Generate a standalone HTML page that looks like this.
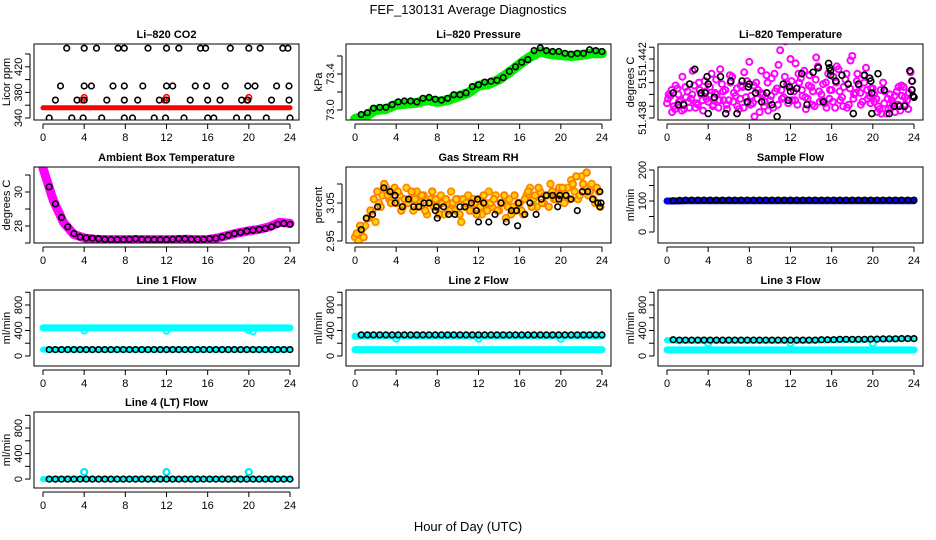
<!DOCTYPE html>
<html><head><meta charset="utf-8"><style>
html,body{margin:0;padding:0;background:#fff;}
svg{display:block;font-family:"Liberation Sans",sans-serif;}
</style></head><body>
<svg id="chart" width="936" height="540" viewBox="0 0 936 540">
<text x="468" y="14" text-anchor="middle" font-size="13">FEF_130131  Average Diagnostics</text>
<text x="468" y="531" text-anchor="middle" font-size="13">Hour of Day (UTC)</text>
</svg>
<script>
// ---- data ----
const xTicks = [0,4,8,12,16,20,24];
const hourly = [0,1,2,3,4,5,6,7,8,9,10,11,12,13,14,15,16,17,18,19,20,21,22,23,24];

// CO2
const co2BlackHours = [2.3,4.0,5.2,7.3,7.9,10.2,12.0,13.2,15.3,15.8,18.2,20.0,21.1,23.3,23.8,
 1.7,4.0,4.7,6.8,7.9,9.7,12.0,12.6,14.8,15.9,17.7,19.9,20.6,22.7,23.9,
 1.2,3.3,4.0,6.2,7.9,9.2,11.3,12.0,14.3,16.0,17.2,19.3,19.9,22.2,23.9,
 0.6,2.8,3.9,5.7,7.9,8.7,10.8,11.9,13.7,16.0,16.6,18.8,19.9,21.7,24.0];
const co2BlackVals = [449,449,449,449,449,449,449,449,449,449,449,449,449,449,449,
 390,390,390,390,390,390,390,390,390,390,390,390,390,390,390,
 368,368,368,368,368,368,368,368,368,368,368,368,368,368,368,
 340,340,340,340,340,340,340,340,340,340,340,340,340,340,340];
const co2Red = [356,356,356,356,356,356,356,356,356,356,356,356,356,356,356,356,356,356,356,356,356,356,356,356,356];
const co2RedSpikeHours = [3.8,4.0,12.0,20.0,11.8,19.8];
const co2RedSpikeVals = [368,372,372,372,368,368];

// Pressure
const presGreen = [72.90,72.93,73.00,73.01,73.06,73.07,73.08,73.11,73.09,73.11,73.15,73.19,73.27,73.29,73.34,73.42,73.51,73.59,73.65,73.62,73.61,73.60,73.61,73.63,73.63];
const presBlack = [72.95,72.97,73.02,73.03,73.03,73.06,73.09,73.10,73.10,73.09,73.13,73.14,73.12,73.11,73.13,73.17,73.17,73.19,73.26,73.28,73.31,73.32,73.33,73.36,73.43,73.48,73.53,73.56,73.66,73.69,73.66,73.65,73.65,73.63,73.62,73.63,73.63,73.67,73.66,73.65];

// Li-820 temperature
const tempPinkA = [51.4390,51.4395,51.4388,51.4400,51.4392,51.4386,51.4398,51.4393,51.4402,51.4389,51.4396,51.4405,
 51.4391,51.4410,51.4397,51.4387,51.4403,51.4399,51.4392,51.4408,51.4395,51.4386,51.4401,51.4394,
 51.4418,51.4390,51.4404,51.4384,51.4396,51.4409,51.4392,51.4387,51.4400,51.4426,51.4394,51.4403,
 51.4420,51.4398,51.4389,51.4407,51.4412,51.4393,51.4401,51.4388,51.4415,51.4396,51.4390,51.4410,
 51.4399,51.4387,51.4413,51.4394,51.4406,51.4389,51.4422,51.4397,51.4402,51.4391,51.4414,51.4395,
 51.4400,51.4393,51.4386,51.4404,51.4383,51.4396,51.4390,51.4398,51.4385,51.4401,51.4392,51.4411];
const tempPinkB = [51.4396,51.4384,51.4402,51.4391,51.4408,51.4394,51.4387,51.4412,51.4390,51.4399,51.4385,51.4393,
 51.4401,51.4389,51.4396,51.4413,51.4392,51.4386,51.4404,51.4397,51.4388,51.4402,51.4411,51.4390,
 51.4395,51.4381,51.4399,51.4412,51.4391,51.4385,51.4407,51.4398,51.4416,51.4393,51.4432,51.4401,
 51.4392,51.4417,51.4404,51.4395,51.4386,51.4409,51.4398,51.4421,51.4391,51.4403,51.4387,51.4399,
 51.4408,51.4415,51.4392,51.4401,51.4387,51.4419,51.4396,51.4410,51.4389,51.4404,51.4393,51.4400,
 51.4391,51.4388,51.4383,51.4398,51.4386,51.4392,51.4384,51.4401,51.4395,51.4389,51.4397,51.4405];
const tempPinkC = [51.4393,51.4399,51.4386,51.4396,51.4385,51.4401,51.4391,51.4396,51.4387,51.4404,51.4392,51.4398,
 51.4395,51.4388,51.4406,51.4392,51.4398,51.4389,51.4409,51.4391,51.4400,51.4393,51.4387,51.4405,
 51.4389,51.4402,51.4393,51.4397,51.4388,51.4404,51.4395,51.4410,51.4389,51.4399,51.4408,51.4390,
 51.4405,51.4392,51.4410,51.4399,51.4394,51.4402,51.4389,51.4406,51.4398,51.4392,51.4404,51.4393,
 51.4391,51.4404,51.4398,51.4388,51.4410,51.4400,51.4393,51.4405,51.4397,51.4409,51.4399,51.4390,
 51.4396,51.4384,51.4399,51.4390,51.4393,51.4387,51.4395,51.4389,51.4402,51.4394,51.4386,51.4399];
const tempBlackHours = [0.6,1.1,1.6,2.2,2.7,3.3,3.7,3.9,4.0,4.0,4.6,5.2,5.7,6.2,6.8,7.3,7.8,7.9,8.0,8.6,9.2,9.7,10.2,10.7,11.3,11.8,11.9,12.0,12.6,13.1,13.6,14.2,14.7,15.2,15.7,15.8,15.9,15.9,16.4,17.0,17.6,18.1,18.6,19.2,19.7,19.8,19.9,19.9,20.5,21.1,21.6,22.1,22.6,23.1,23.6,23.8,23.8,23.9,24.0];
const tempBlackVals = [51.4397,51.4389,51.4389,51.4403,51.4413,51.4397,51.4397,51.4408,51.4403,51.4383,51.4394,51.4408,51.4383,51.4405,51.4383,51.4405,51.4391,51.4401,51.4403,51.4397,51.4391,51.4397,51.4389,51.4381,51.4403,51.4392,51.4401,51.4398,51.4400,51.4410,51.4389,51.4411,51.4414,51.4391,51.4417,51.4414,51.4412,51.4409,51.4405,51.4409,51.4403,51.4383,51.4403,51.4409,51.4407,51.4405,51.4397,51.4383,51.4410,51.4399,51.4383,51.4388,51.4388,51.4388,51.4412,51.4405,51.4399,51.4395,51.4394];

// Ambient box temperature
const ambMagenta = [31.4,29.5,28.2,27.5,27.3,27.22,27.2,27.2,27.2,27.2,27.2,27.2,27.2,27.2,27.22,27.2,27.2,27.3,27.45,27.6,27.72,27.8,27.95,28.22,28.15];
const ambBlack = [30.3,29.3,28.5,27.95,27.55,27.35,27.3,27.28,27.25,27.22,27.2,27.2,27.2,27.22,27.25,27.22,27.2,27.2,27.2,27.2,27.22,27.25,27.25,27.22,27.22,27.22,27.25,27.28,27.35,27.45,27.55,27.62,27.7,27.75,27.8,27.85,27.95,28.1,28.15,28.1];

// Gas stream RH
const rhYellowA = [2.96,2.95,2.98,2.99,3.01,3.03,3.00,3.05,3.07,3.09,3.06,3.08,
 3.05,3.07,3.04,3.09,3.06,3.03,3.08,3.05,3.07,3.02,3.06,3.04,
 3.04,3.07,3.02,3.05,3.08,3.03,3.06,3.00,3.04,3.07,3.03,3.05,
 3.06,3.02,3.05,3.08,3.04,3.07,3.03,3.05,3.01,3.06,3.04,3.03,
 3.05,3.02,3.07,3.09,3.06,3.04,3.08,3.05,3.07,3.10,3.06,3.08,
 3.07,3.05,3.09,3.11,3.08,3.06,3.12,3.09,3.07,3.10,3.05,3.08];
const rhYellowB = [2.97,2.99,2.96,3.01,3.03,3.06,3.08,3.04,3.10,3.07,3.05,3.09,
 3.08,3.03,3.06,3.05,3.08,3.06,3.04,3.07,3.03,3.05,3.08,3.06,
 3.02,3.05,3.06,3.03,3.05,3.06,3.02,3.06,3.05,3.03,3.06,3.02,
 3.04,3.07,3.03,3.05,3.06,3.03,3.05,3.07,3.04,3.02,3.07,3.05,
 3.03,3.06,3.08,3.04,3.07,3.09,3.05,3.07,3.04,3.08,3.06,3.09,
 3.09,3.07,3.06,3.10,3.12,3.07,3.10,3.13,3.08,3.06,3.09,3.04];
const rhBlackHours = [0.6,1.1,1.7,2.2,2.8,3.4,3.9,3.9,4.6,5.2,5.7,6.2,6.7,7.2,7.8,7.9,8.0,8.6,9.1,9.7,10.2,10.7,11.3,11.8,11.9,12.0,12.5,13.0,13.6,14.2,14.7,15.2,15.7,15.8,15.9,16.5,17.0,17.6,18.1,18.6,19.2,19.7,19.8,19.9,20.5,21.0,21.6,22.1,22.6,23.1,23.6,23.8,23.8,23.9];
const rhBlackVals = [2.98,3.01,3.02,3.04,3.09,3.08,3.07,3.05,3.04,3.06,3.04,3.04,3.05,3.05,3.03,3.04,3.01,3.04,3.02,3.02,3.04,3.04,3.05,3.03,3.06,3.00,3.05,3.00,3.02,3.05,3.00,3.03,3.03,2.99,3.05,3.02,3.05,3.02,3.06,3.07,3.07,3.04,3.06,3.07,3.07,3.06,3.03,3.08,3.08,3.06,3.05,3.08,3.04,3.05];

// Sample flow
const sampleBlue = [100,100,101,101,101,101,101,101,101,101,101,101,101,101,101,101,101,101,101,101,101,101,101,101,101];
const sampleBlack = [101,102,103,103,103,103,103,103,103,103,103,103,103,103,103,103,103,103,103,103,103,103,103,103,103,103,103,103,103,103,103,103,103,103,103,103,103,103,103,103];

// Line flows
const line1CyanHigh = [440,440,440,440,440,440,440,440,440,440,440,440,440,440,440,440,440,440,440,440,440,440,440,440,440];
const line1CyanLow = [100,100,100,100,100,100,100,100,100,100,100,100,100,100,100,100,100,100,100,100,100,100,100,100,100];
const line1DipHours = [4,12,20,20.4];
const line1DipVals = [400,395,405,385];
const line1Black = [100,100,100,100,100,100,100,100,100,100,100,100,100,100,100,100,100,100,100,100,100,100,100,100,100,100,100,100,100,100,100,100,100,100,100,100,100,100,100,100];

const line2CyanHigh = [310,315,315,315,315,315,315,315,315,315,315,315,315,315,315,315,315,315,315,315,315,315,315,315,315];
const line2CyanLow = [100,100,100,100,100,100,100,100,100,100,100,100,100,100,100,100,100,100,100,100,100,100,100,100,100];
const line2DipHours = [4,12,20];
const line2DipVals = [270,270,270];
const line2Black = [330,330,330,330,330,330,330,330,330,330,330,330,330,330,330,330,330,330,330,330,330,330,330,330,330,330,330,330,330,330,330,330,330,330,330,330,330,330,330,330];

const line3CyanHigh = [250,240,240,240,240,240,240,240,240,240,240,240,240,240,240,245,250,255,255,255,260,265,265,270,270];
const line3CyanLow = [95,95,95,95,95,95,95,95,95,95,95,95,95,95,95,95,95,95,95,95,95,95,95,95,95];
const line3DipHours = [4,12,20];
const line3DipVals = [200,200,200];
const line3Black = [255,250,250,250,250,250,250,250,250,250,250,250,250,250,250,250,250,250,250,250,250,250,250,250,255,255,255,262,262,262,262,262,265,265,268,270,270,272,272,272];

const line4Cyan = [0,0,0,0,0,0,0,0,0,0,0,0,0,0,0,0,0,0,0,0,0,0,0,0,0];
const line4SpikeHours = [4,12,20];
const line4SpikeVals = [110,110,110];
const line4Black = [0,0,0,0,0,0,0,0,0,0,0,0,0,0,0,0,0,0,0,0,0,0,0,0,0,0,0,0,0,0,0,0,0,0,0,0,0,0,0,0];

// ---- drawing ----
const NS = 'http://www.w3.org/2000/svg';
const svg = document.getElementById('chart');
const ROWS = [44,167,290,412];
const BOXW = 265, BOXH = 76;
function hoursStep(step, n, start){ const a=[]; for(let i=0;i<n;i++) a.push(start+i*step); return a; }
const black40Hours = hoursStep(0.6, 40, 0.6);
const third72A = hoursStep(1/3, 72, 0);
const third72B = hoursStep(1/3, 72, 1/6);
const third72C = hoursStep(1/3, 72, 1/9);

function mk(tag, attrs, parent){ const e=document.createElementNS(NS,tag); for(const k in attrs) e.setAttribute(k,attrs[k]); (parent||svg).appendChild(e); return e; }

function makePanel(p){
  const L = 34 + 312*p.col, T = ROWS[p.row], R = L+BOXW, B = T+BOXH;
  const g = mk('g', {});
  
  
  const xs = h => L + 9 + h*(BOXW-18)/24;
  const ys = v => B - (v - p.ymin)/(p.ymax - p.ymin)*BOXH;
  const t = mk('text', {x:L+BOXW/2, y:T-6, 'text-anchor':'middle', 'font-size':11, 'font-weight':'bold'}, g);
  t.textContent = p.title;
  
  
  const xa = mk('g', {stroke:'#000','stroke-width':1}, g);
  
  
  mk('line', {x1:xs(0), x2:xs(24), y1:B+4, y2:B+4}, xa);
  xTicks.forEach(h => {
    mk('line', {x1:xs(h), x2:xs(h), y1:B+4, y2:B+9}, xa);
    const tl = mk('text', {x:xs(h), y:B+21, 'text-anchor':'middle','font-size':11, stroke:'none'}, g);
    tl.textContent = h;
    
    
  });
  const ya = mk('g', {stroke:'#000','stroke-width':1}, g);
  
  
  mk('line', {x1:L-4, x2:L-4, y1:ys(p.yticks[0]), y2:ys(p.yticks[p.yticks.length-1])}, ya);
  p.yticks.forEach((v,i) => {
    mk('line', {x1:L-9, x2:L-4, y1:ys(v), y2:ys(v)}, ya);
    if (p.ylabels[i]) {
      const yl = mk('text', {x:0, y:0, 'text-anchor':'middle','font-size':11, transform:`translate(${L-12},${ys(v)}) rotate(-90)`}, g);
      yl.textContent = p.ylabels[i];
      
      
    }
  });
  const yt = mk('text', {x:0,y:0,'text-anchor':'middle','font-size':11, transform:`translate(${L-24},${T+BOXH/2}) rotate(-90)`}, g);
  yt.textContent = p.ylab;
  
  
  const cid = 'clip-' + p.name;
  const cp = mk('clipPath', {id:cid}, g);
  mk('rect', {x:L, y:T, width:BOXW, height:BOXH}, cp);
  const data = mk('g', {'clip-path':`url(#${cid})`}, g);
  
  
  p.draw({xs, ys, data});
  const box = mk('rect', {x:L, y:T, width:BOXW, height:BOXH, fill:'none', stroke:'#000', 'stroke-width':1}, g);
  
  
}

function band(c, hours, vals, color, w, name){
  const pts = hours.map((h,i) => c.xs(h).toFixed(1)+','+c.ys(vals[i]).toFixed(1)).join(' ');
  const pl = mk('polyline', {points:pts, fill:'none', stroke:color, 'stroke-width':w, 'stroke-linejoin':'round','stroke-linecap':'round'}, c.data);
  
  
}
function pts(c, hours, vals, color, r, sw, name, fill){
  const gg = mk('g', {fill:fill||'none', stroke:color, 'stroke-width':sw}, c.data);
  
  
  hours.forEach((h,i) => {
    const ci = mk('circle', {cx:c.xs(h).toFixed(1), cy:c.ys(vals[i]).toFixed(1), r:r}, gg);
    
    
  });
}

const flowTicks = [0,200,400,600,800,1000];
const flowLabels = ['0','','400','','800',''];

makePanel({name:'co2', col:0,row:0, title:'Li\u2013820 CO2', ylab:'Licor ppm', ymin:336.9, ymax:455.6,
  yticks:[340,360,380,400,420,440], ylabels:['340','','380','','420',''],
  draw:c => { band(c, hourly, co2Red, '#ff0000', 5, 'co2-red-series');
    pts(c, co2RedSpikeHours, co2RedSpikeVals, '#ff0000', 2.8, 1.6, 'co2-red-spikes');
    pts(c, co2BlackHours, co2BlackVals, '#000', 2.8, 1.6, 'co2-black-series'); }});

makePanel({name:'pressure', col:1,row:0, title:'Li\u2013820 Pressure', ylab:'kPa', ymin:72.889, ymax:73.733,
  yticks:[73.0,73.2,73.4,73.6], ylabels:['73.0','','73.4',''],
  draw:c => { band(c, hourly, presGreen, '#00ee00', 10, 'pressure-green-series');
    pts(c, black40Hours, presBlack, '#000', 2.8, 1.6, 'pressure-black-series'); }});

makePanel({name:'li820-temp', col:2,row:0, title:'Li\u2013820 Temperature', ylab:'degrees C', ymin:51.437864, ymax:51.443017,
  yticks:[51.4380,51.4388,51.4396,51.4404,51.4412,51.4420,51.4428], ylabels:['51.438','','','51','','51.442',''],
  draw:c => { pts(c, third72A, tempPinkA, '#ff00ff', 3, 2, 'temp-magenta-series-a');
    pts(c, third72B, tempPinkB, '#ff00ff', 3, 2, 'temp-magenta-series-b');
    pts(c, third72C, tempPinkC, '#ff00ff', 3, 2, 'temp-magenta-series-c');
    pts(c, tempBlackHours, tempBlackVals, '#000', 3, 1.6, 'temp-black-series'); }});

makePanel({name:'ambient-temp', col:0,row:1, title:'Ambient Box Temperature', ylab:'degrees C', ymin:27, ymax:31.47,
  yticks:[27,28,29,30,31], ylabels:['','28','','30',''],
  draw:c => { band(c, hourly, ambMagenta, '#ff00ff', 9, 'ambient-magenta-series');
    pts(c, black40Hours, ambBlack, '#000', 2.8, 1.6, 'ambient-black-series'); }});

makePanel({name:'gas-rh', col:1,row:1, title:'Gas Stream RH', ylab:'percent', ymin:2.9447, ymax:3.1447,
  yticks:[2.95,3.00,3.05,3.10], ylabels:['2.95','','3.05',''],
  draw:c => { pts(c, third72A, rhYellowA, '#ff8c00', 3.3, 1.8, 'rh-yellow-series-a', '#ffd700');
    pts(c, third72B, rhYellowB, '#ff7a00', 3.3, 1.8, 'rh-yellow-series-b', '#ffd700');
    pts(c, rhBlackHours, rhBlackVals, '#000', 2.8, 1.6, 'rh-black-series'); }});

makePanel({name:'sample-flow', col:2,row:1, title:'Sample Flow', ylab:'ml/min', ymin:-35.5, ymax:209.7,
  yticks:[0,50,100,150,200], ylabels:['0','','100','','200'],
  draw:c => { band(c, hourly, sampleBlue, '#0000ff', 7, 'sample-blue-series');
    pts(c, black40Hours, sampleBlack, '#000', 2.8, 1.6, 'sample-black-series'); }});

makePanel({name:'line1-flow', col:0,row:2, title:'Line 1 Flow', ylab:'ml/min', ymin:-157, ymax:1035,
  yticks:flowTicks, ylabels:flowLabels,
  draw:c => { band(c, hourly, line1CyanHigh, '#00ffff', 7, 'line1-cyan-high');
    band(c, hourly, line1CyanLow, '#00ffff', 6, 'line1-cyan-low');
    pts(c, line1DipHours, line1DipVals, '#00ffff', 3, 2, 'line1-cyan-dips');
    pts(c, black40Hours, line1Black, '#000', 2.8, 1.6, 'line1-black-series'); }});

makePanel({name:'line2-flow', col:1,row:2, title:'Line 2 Flow', ylab:'ml/min', ymin:-157, ymax:1035,
  yticks:flowTicks, ylabels:flowLabels,
  draw:c => { band(c, hourly, line2CyanHigh, '#00ffff', 7, 'line2-cyan-high');
    band(c, hourly, line2CyanLow, '#00ffff', 7, 'line2-cyan-low');
    pts(c, line2DipHours, line2DipVals, '#00ffff', 3, 2, 'line2-cyan-dips');
    pts(c, black40Hours, line2Black, '#000', 2.8, 1.6, 'line2-black-series'); }});

makePanel({name:'line3-flow', col:2,row:2, title:'Line 3 Flow', ylab:'ml/min', ymin:-157, ymax:1035,
  yticks:flowTicks, ylabels:flowLabels,
  draw:c => { band(c, hourly, line3CyanHigh, '#00ffff', 6, 'line3-cyan-high');
    band(c, hourly, line3CyanLow, '#00ffff', 7, 'line3-cyan-low');
    pts(c, line3DipHours, line3DipVals, '#00ffff', 3, 2, 'line3-cyan-dips');
    pts(c, black40Hours, line3Black, '#000', 2.8, 1.6, 'line3-black-series'); }});

makePanel({name:'line4-flow', col:0,row:3, title:'Line 4 (LT) Flow', ylab:'ml/min', ymin:-140, ymax:1052,
  yticks:flowTicks, ylabels:flowLabels,
  draw:c => { band(c, hourly, line4Cyan, '#00ffff', 6, 'line4-cyan-series');
    pts(c, line4SpikeHours, line4SpikeVals, '#00e5ee', 3, 2.2, 'line4-cyan-spikes');
    pts(c, black40Hours, line4Black, '#000', 2.8, 1.6, 'line4-black-series'); }});
</script>
</body></html>
